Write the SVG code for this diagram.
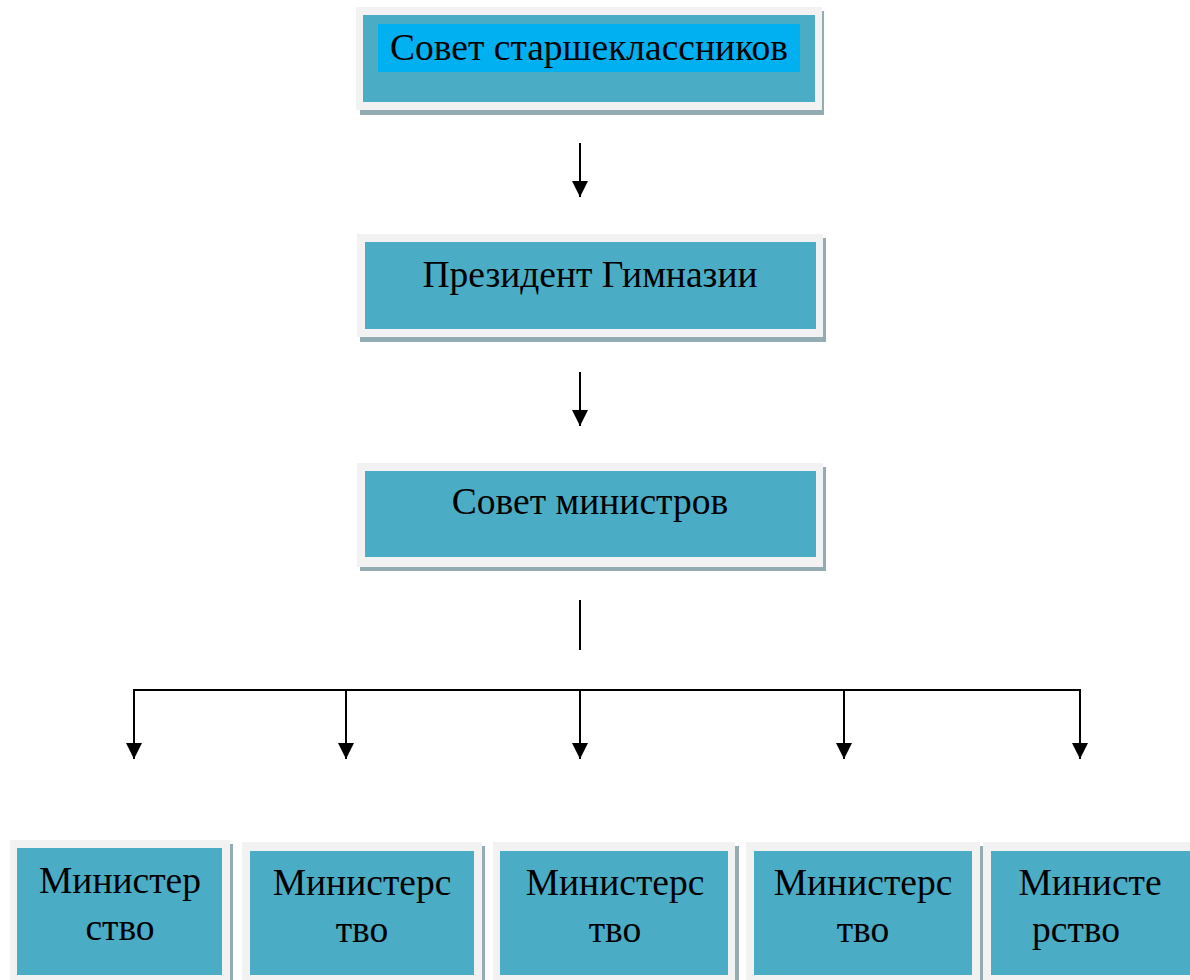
<svg xmlns="http://www.w3.org/2000/svg" width="1190" height="980" viewBox="0 0 1190 980">
<style>
.frame{fill:#f2f2f2}
.shadow{fill:#93acb4}
.teal{fill:#4bacc6}
.hl{fill:#00b0f0}
.t{font-family:"Liberation Serif","Times New Roman",serif;font-size:37.5px;fill:#000;text-anchor:middle}
.c{stroke:#000;stroke-width:2;fill:none}
</style>
<defs>
<marker id="ah" markerWidth="18" markerHeight="18" viewBox="0 0 18 18" refX="16" refY="9" orient="auto" markerUnits="userSpaceOnUse">
<path d="M0,1 L16,9 L0,17 Z" fill="#000"/>
</marker>
</defs>
<rect width="1190" height="980" fill="#fff"/>
<g id="node-sovet-starsheklassnikov">
<rect class="shadow" x="360" y="11" width="464" height="104"/>
<rect class="frame" x="356" y="7" width="466" height="103"/>
<rect class="teal" x="363" y="15" width="452" height="87"/>
<rect class="hl" x="378" y="24" width="422" height="48"/>
<text class="t" x="589" y="60">Совет старшеклассников</text>
</g>
<g id="node-president">
<rect class="shadow" x="360" y="238" width="466" height="104"/>
<rect class="frame" x="357" y="234" width="466" height="103"/>
<rect class="teal" x="365" y="242" width="451" height="87"/>
<text class="t" x="590" y="287">Президент Гимназии</text>
</g>
<g id="node-sovet-ministrov">
<rect class="shadow" x="360" y="467" width="466" height="104"/>
<rect class="frame" x="357" y="463" width="466" height="104"/>
<rect class="teal" x="365" y="471" width="451" height="86"/>
<text class="t" x="590" y="514">Совет министров</text>
</g>
<g id="node-ministry-1">
<rect class="shadow" x="14" y="844" width="219" height="140"/>
<rect class="frame" x="10" y="840" width="220" height="140"/>
<rect class="teal" x="17" y="848" width="205" height="127"/>
<text class="t" x="120" y="893">Министер</text>
<text class="t" x="120" y="940">ство</text>
</g>
<g id="node-ministry-2">
<rect class="shadow" x="246" y="846" width="239" height="140"/>
<rect class="frame" x="242" y="842" width="240" height="140"/>
<rect class="teal" x="250" y="851" width="224" height="124"/>
<text class="t" x="362" y="895">Министерс</text>
<text class="t" x="362" y="942">тво</text>
</g>
<g id="node-ministry-3">
<rect class="shadow" x="497" y="846" width="242" height="140"/>
<rect class="frame" x="493" y="842" width="242" height="140"/>
<rect class="teal" x="500" y="851" width="228" height="124"/>
<text class="t" x="615" y="895">Министерс</text>
<text class="t" x="615" y="942">тво</text>
</g>
<g id="node-ministry-4">
<rect class="shadow" x="750" y="846" width="233" height="140"/>
<rect class="frame" x="746" y="842" width="234" height="140"/>
<rect class="teal" x="754" y="851" width="218" height="124"/>
<text class="t" x="863" y="895">Министерс</text>
<text class="t" x="863" y="942">тво</text>
</g>
<g id="node-ministry-5">
<rect class="frame" x="983" y="842" width="207" height="140"/>
<rect class="teal" x="991" y="851" width="199" height="124"/>
<text class="t" x="1090" y="895">Министе</text>
<text class="t" x="1076" y="942">рство</text>
</g>
<g id="connectors">
<line class="c" x1="580" y1="143" x2="580" y2="197" marker-end="url(#ah)"/>
<line class="c" x1="580" y1="372" x2="580" y2="426" marker-end="url(#ah)"/>
<line class="c" x1="580" y1="600" x2="580" y2="650"/>
<line class="c" x1="133" y1="690" x2="1081" y2="690"/>
<line class="c" x1="134" y1="689" x2="134" y2="759" marker-end="url(#ah)"/>
<line class="c" x1="346" y1="689" x2="346" y2="759" marker-end="url(#ah)"/>
<line class="c" x1="580" y1="689" x2="580" y2="759" marker-end="url(#ah)"/>
<line class="c" x1="844" y1="689" x2="844" y2="759" marker-end="url(#ah)"/>
<line class="c" x1="1080" y1="689" x2="1080" y2="759" marker-end="url(#ah)"/>
</g>
</svg>
